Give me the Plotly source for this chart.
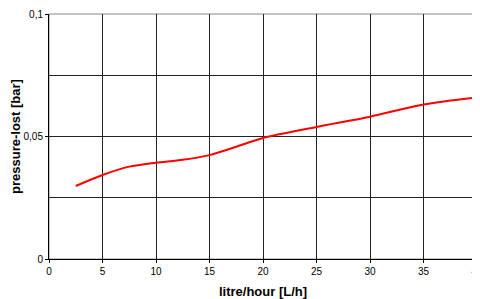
import plotly.graph_objects as go

flow = [2.5, 5, 7.5, 10, 12.5, 15, 17.5, 20, 25, 30, 35, 40]
pressure = [0.0298, 0.0343, 0.0377, 0.0393, 0.0405, 0.0424, 0.0458, 0.0494, 0.0539, 0.0581, 0.0631, 0.0660]

x_ticks = [0, 5, 10, 15, 20, 25, 30, 35, 40]
y_ticks = [0, 0.05, 0.1]
y_ticktext = ["0", "0,05", "0,1"]

fig = go.Figure()
fig.add_trace(go.Scatter(x=flow, y=pressure, mode="lines",
                         line=dict(color="#ff0000", width=2, shape="spline", smoothing=0.8),
                         showlegend=False, hoverinfo="skip", cliponaxis=False))

# page body has an 8px margin, so size the figure to fit the 480x299 window
fig.update_layout(
    width=472, height=291,
    margin=dict(l=41, r=3, t=6, b=40),
    paper_bgcolor="white", plot_bgcolor="white",
    font=dict(family="Liberation Sans, Arial, sans-serif", size=10, color="black"),
)
fig.update_xaxes(range=[0, 40], tickvals=x_ticks, ticks="outside", ticklen=3,
                 tickcolor="black", showgrid=True, gridcolor="#222", gridwidth=1,
                 showline=True, linecolor="black", linewidth=1, mirror=False,
                 zeroline=False, automargin=False, ticklabeloverflow="allow",
                 title=dict(text="<b>litre/hour [L/h]</b>", font=dict(size=13), standoff=11))
fig.update_yaxes(range=[0, 0.1], tickvals=y_ticks, ticktext=y_ticktext, ticks="outside",
                 ticklen=3, tickcolor="black", showgrid=True, gridcolor="#222", gridwidth=1,
                 minor=dict(dtick=0.025, showgrid=True, gridcolor="#222", gridwidth=1, ticks=""),
                 showline=True, linecolor="black", linewidth=1, zeroline=False, automargin=False,
                 title=dict(text="<b>pressure-lost [bar]</b>", font=dict(size=13), standoff=5))

# top and right border
fig.add_shape(type="rect", xref="paper", yref="paper", x0=0, y0=0, x1=1, y1=1,
              line=dict(color="#888", width=1), layer="below")

fig.write_html("out.html")
